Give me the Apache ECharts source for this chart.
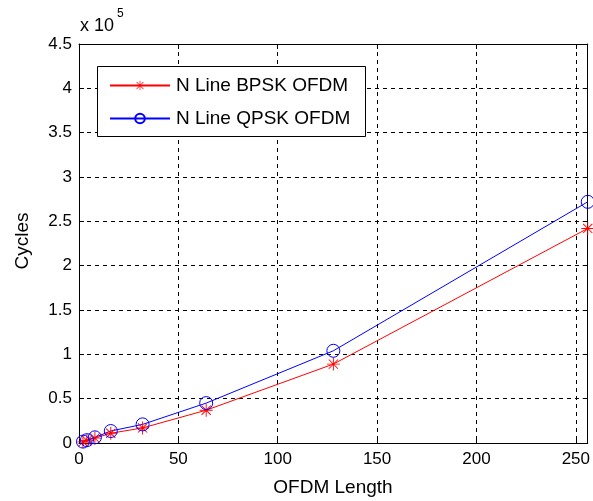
<!DOCTYPE html>
<html>
<head>
<meta charset="utf-8">
<script src="https://cdn.jsdelivr.net/npm/echarts@6/dist/echarts.min.js"></script>
<style>html,body{margin:0;padding:0;background:#fff}#c{width:593px;height:501px}</style>
</head>
<body>
<div id="c"></div>
<script>
var lengths = [2, 4, 8, 16, 32, 64, 128, 256];
var bpskCycles = [1300, 2700, 5500, 11000, 17000, 37000, 89000, 242000];
var qpskCycles = [1600, 3200, 6400, 13500, 21000, 45000, 104000, 272000];
var seriesNames = ['N Line BPSK OFDM', 'N Line QPSK OFDM'];
var xTicks = [0, 50, 100, 150, 200, 250];
var yTickLabels = ['0', '0.5', '1', '1.5', '2', '2.5', '3', '3.5', '4', '4.5'];

var FONT = '"Liberation Sans", Arial, Helvetica, sans-serif';
var star = 'path://M9.3 0H10.7V20H9.3Z M0 9.3H20V10.7H0Z M2.4 3.4L3.4 2.4L17.6 16.6L16.6 17.6Z M16.6 2.4L17.6 3.4L3.4 17.6L2.4 16.6Z';

function pairs(xs, ys) { return xs.map(function (x, i) { return [x, ys[i]]; }); }

var chart = echarts.init(document.getElementById('c'), null, { renderer: 'canvas' });
var gridDash = { show: true, lineStyle: { color: '#000', width: 1, type: [4, 4] } };
chart.setOption({
  animation: false,
  backgroundColor: '#fff',
  textStyle: { fontFamily: FONT },
  grid: { left: 79, right: 2, top: 44, bottom: 58, show: false },
  xAxis: [{
    type: 'value', min: 0, max: 256, interval: 50, position: 'bottom',
    axisLine: { show: true, onZero: false, lineStyle: { color: '#000' } },
    axisTick: { show: true, inside: true, length: 5, lineStyle: { color: '#000' } },
    axisLabel: { color: '#000', fontSize: 17, fontFamily: FONT, margin: 8, showMaxLabel: false,
      formatter: function (v) { return xTicks.indexOf(v) >= 0 ? String(v) : ''; } },
    splitLine: gridDash
  }, {
    type: 'value', min: 0, max: 256, interval: 50, position: 'top',
    axisLine: { show: true, onZero: false, lineStyle: { color: '#000' } },
    axisTick: { show: true, inside: true, length: 5, lineStyle: { color: '#000' } },
    axisLabel: { show: false }, splitLine: { show: false }
  }],
  yAxis: [{
    type: 'value', min: 0, max: 450000, interval: 50000, position: 'left',
    axisLine: { show: true, onZero: false, lineStyle: { color: '#000' } },
    axisTick: { show: true, inside: true, length: 5, lineStyle: { color: '#000' } },
    axisLabel: { color: '#000', fontSize: 17, fontFamily: FONT, margin: 7,
      formatter: function (v) { return yTickLabels[Math.round(v / 50000)]; } },
    splitLine: gridDash
  }, {
    type: 'value', min: 0, max: 450000, interval: 50000, position: 'right',
    axisLine: { show: true, onZero: false, lineStyle: { color: '#000' } },
    axisTick: { show: true, inside: true, length: 5, lineStyle: { color: '#000' } },
    axisLabel: { show: false }, splitLine: { show: false }
  }],
  legend: {
    orient: 'vertical', left: 109, top: 76, padding: 0,
    itemWidth: 60, itemHeight: 12, itemGap: 14,
    textStyle: { color: '#000', fontSize: 19, fontFamily: FONT, padding: [0, 0, 0, 1], lineHeight: 14 },
    data: seriesNames, z: 5
  },
  graphic: [
    { type: 'rect', z: 4, shape: { x: 97.5, y: 66.5, width: 268, height: 70 }, style: { fill: '#fff', stroke: '#000', lineWidth: 1 } },
    { type: 'text', left: 80, top: 17, style: { text: 'x 10', font: '18px ' + FONT, fill: '#000' } },
    { type: 'text', left: 117, top: 8, style: { text: '5', font: '12px ' + FONT, fill: '#000' } },
    { type: 'text', x: 333, y: 488, style: { text: 'OFDM Length', font: '19px ' + FONT, fill: '#000', align: 'center', verticalAlign: 'middle' } },
    { type: 'text', x: 23, y: 241, rotation: Math.PI / 2, style: { text: 'Cycles', font: '19px ' + FONT, fill: '#000', align: 'center', verticalAlign: 'middle' } }
  ],
  series: [{
    name: seriesNames[0], type: 'line', data: pairs(lengths, bpskCycles),
    symbol: star, symbolSize: 13, showAllSymbol: true,
    lineStyle: { color: '#ff0000', width: 1 },
    itemStyle: { color: '#ff0000', borderWidth: 0 }
  }, {
    name: seriesNames[1], type: 'line', data: pairs(lengths, qpskCycles),
    symbol: 'circle', symbolSize: 13, showAllSymbol: true,
    lineStyle: { color: '#0000ff', width: 1 },
    itemStyle: { color: 'rgba(0,0,0,0)', borderColor: '#0000ff', borderWidth: 1 }
  }]
});
</script>
</body>
</html>
